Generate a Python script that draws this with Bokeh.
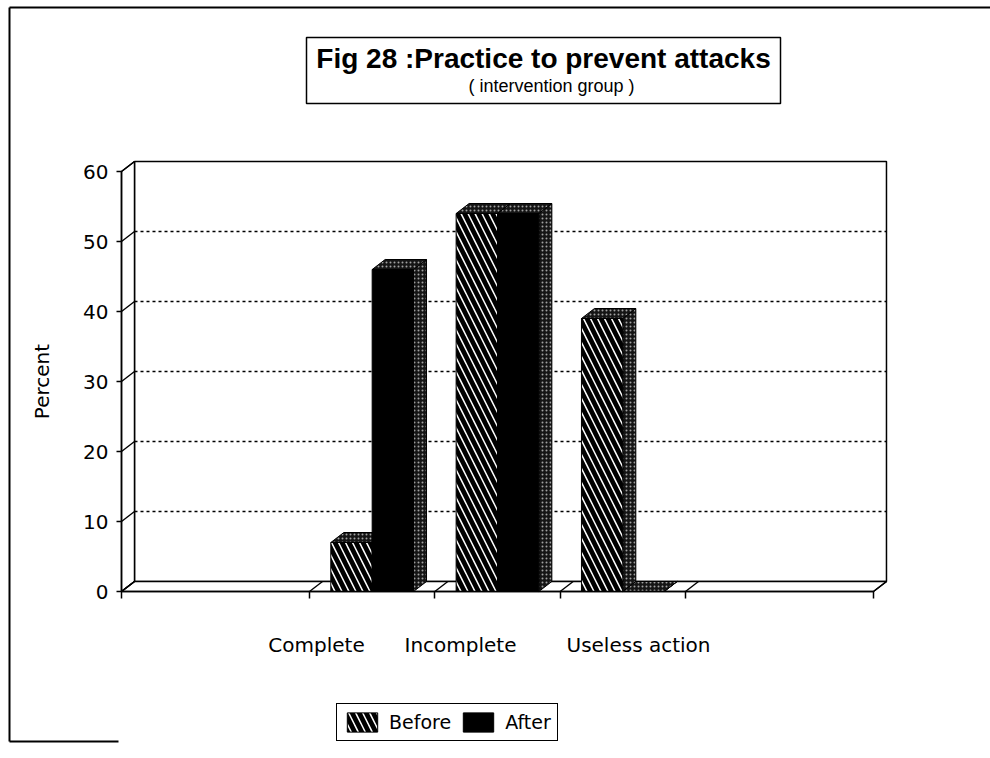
from bokeh.plotting import figure
from bokeh.models import (Range1d, LinearAxis, FixedTicker, Legend, LegendItem,
                          Label, BoxAnnotation)
from bokeh.embed import file_html
from bokeh.resources import INLINE

# ---- data -------------------------------------------------------------
categories = ["Complete", "Incomplete", "Useless action"]
before = [7, 54, 39]
after = [46, 54, 0]
series_names = ["Before", "After"]
y_ticks = [0, 10, 20, 30, 40, 50, 60]

# ---- layout -----------------------------------------------------------
W, H = 990, 758
X0, XU = 121.0, 125.33        # pixel of x=0 and pixels per category slot
Y0, YU = 591.0, 7.0           # pixel of y=0 and pixels per percent
DX, DY = 13 / XU, 10 / YU     # 3D depth offset of walls, floor and bars
N_SLOTS = 6
Y_MAX = 60
BAR_W = 0.33
FONT = "DejaVu Sans"
INK = "black"


def sx(px):
    return (px - X0) / XU


def sy(py):
    return (Y0 - py) / YU


centers = [i + 2 for i in range(len(categories))]
slot_edges = [0] + [c - 0.5 for c in centers] + [centers[-1] + 0.5, N_SLOTS]

p = figure(width=W, height=H,
           x_range=Range1d(sx(0), sx(W)), y_range=Range1d(sy(H), sy(0)),
           x_axis_type=None, y_axis_type=None, min_border=0,
           toolbar_location=None, output_backend="svg",
           outline_line_color=None, background_fill_color="white",
           border_fill_color="white")

# outer frame of the figure page
p.multi_line(xs=[[sx(9), sx(990)], [sx(9), sx(9)], [sx(9), sx(118)]],
             ys=[[sy(7), sy(7)], [sy(7), sy(741)], [sy(741), sy(741)]],
             line_color=INK, line_width=2)

# ---- 3D box: back wall, left wall, floor -----------------------------
p.quad(left=DX, right=N_SLOTS + DX, bottom=DY, top=Y_MAX + DY,
       fill_color="white", line_color=INK, line_width=1.5)
p.patch([0, DX, DX, 0], [0, DY, Y_MAX + DY, Y_MAX],
        fill_color="white", line_color=INK, line_width=1.5)
p.patch([0, N_SLOTS, N_SLOTS + DX, DX], [0, 0, DY, DY],
        fill_color="white", line_color=INK, line_width=1.5)

grid_y = [v + DY for v in y_ticks[1:-1]]
p.segment(x0=[DX] * len(grid_y), x1=[N_SLOTS + DX] * len(grid_y),
          y0=grid_y, y1=grid_y, line_color=INK, line_width=1.4,
          line_dash="3 3")
p.segment(x0=[0] * len(y_ticks), x1=[DX] * len(y_ticks),
          y0=y_ticks, y1=[v + DY for v in y_ticks],
          line_color=INK, line_width=1.4)
p.segment(x0=slot_edges, x1=[e + DX for e in slot_edges],
          y0=[0] * len(slot_edges), y1=[DY] * len(slot_edges),
          line_color=INK, line_width=1.4)

# ---- bars -------------------------------------------------------------
face_styles = {
    "Before": dict(fill_color=INK, hatch_pattern="\\", hatch_color="white",
                   hatch_weight=1.5, hatch_scale=14),
    "After": dict(fill_color=INK),
}
stipple = dict(fill_color="#151515", hatch_pattern=".", hatch_color="white",
               hatch_scale=4, hatch_weight=1, hatch_alpha=0.6,
               line_color=INK, line_width=1)

front_renderers = {}
for k, (name, vals) in enumerate(zip(series_names, [before, after])):
    lefts = [c - BAR_W + k * BAR_W for c in centers]
    rights = [l + BAR_W for l in lefts]
    p.patches(xs=[[r, r + DX, r + DX, r] for r in rights],
              ys=[[0, DY, v + DY, v] for v in vals], **stipple)
    p.patches(xs=[[l, l + DX, r + DX, r] for l, r in zip(lefts, rights)],
              ys=[[v, v + DY, v + DY, v] for v in vals], **stipple)
    front_renderers[name] = p.quad(left=lefts, right=rights,
                                   bottom=[0] * len(vals), top=vals,
                                   line_color=INK, line_width=1,
                                   **face_styles[name])

# ---- axes -------------------------------------------------------------
yax = LinearAxis(fixed_location=0, bounds=(0, Y_MAX),
                 ticker=FixedTicker(ticks=y_ticks),
                 axis_label="Percent", axis_label_text_font=FONT,
                 axis_label_text_font_size="20px",
                 axis_label_text_font_style="normal",
                 axis_label_text_color=INK,
                 axis_label_standoff=26,
                 major_label_text_font=FONT, major_label_text_font_size="20px",
                 major_label_text_color=INK,
                 major_label_standoff=8,
                 major_tick_in=0, major_tick_out=5, minor_tick_line_color=None,
                 axis_line_width=1.5, major_tick_line_width=1.5,
                 axis_line_color=INK, major_tick_line_color=INK)
p.add_layout(yax, "left")

# floor edge: slot boundaries as (minor) ticks, category names as labels
label_px = [316, 460, 638]
label_x = [sx(v) for v in label_px]
cat_axis = LinearAxis(fixed_location=0, bounds=(0, N_SLOTS),
                      ticker=FixedTicker(ticks=label_x, minor_ticks=slot_edges),
                      major_label_overrides={x: c for x, c in zip(label_x, categories)},
                      axis_line_color=INK, axis_line_width=1.5,
                      major_tick_line_color=None,
                      minor_tick_line_color=INK, minor_tick_line_width=1.5,
                      minor_tick_in=0, minor_tick_out=7,
                      major_tick_in=0, major_tick_out=0,
                      major_label_standoff=34,
                      major_label_text_font=FONT,
                      major_label_text_color=INK,
                      major_label_text_font_size="20px")
p.add_layout(cat_axis, "below")

# ---- title box ----------------------------------------------------------
p.add_layout(BoxAnnotation(left=sx(306), right=sx(780), top=sy(37), bottom=sy(103),
                           fill_color="white", fill_alpha=1,
                           line_color=INK, line_alpha=1, line_width=1.5))
p.add_layout(Label(x=sx(543), y=sy(58), text="Fig 28 :Practice to prevent attacks",
                   text_align="center", text_baseline="middle",
                   text_font="Liberation Sans", text_font_size="28px",
                   text_font_style="bold", text_color=INK))
p.add_layout(Label(x=sx(551), y=sy(85), text="( intervention group )",
                   text_align="center", text_baseline="middle",
                   text_font="Liberation Sans", text_font_size="18px",
                   text_color=INK))

# ---- legend -------------------------------------------------------------
legend = Legend(items=[LegendItem(label=n, renderers=[front_renderers[n]])
                       for n in series_names],
                orientation="horizontal", location=(336, 17),
                border_line_color=INK, border_line_width=1.5, border_line_alpha=1,
                label_text_font=FONT, label_text_font_size="19px",
                label_text_color=INK,
                glyph_width=38, glyph_height=24, spacing=8, padding=6,
                label_standoff=8, margin=0)
p.add_layout(legend)

open("out.html", "w").write(file_html(p, INLINE))
